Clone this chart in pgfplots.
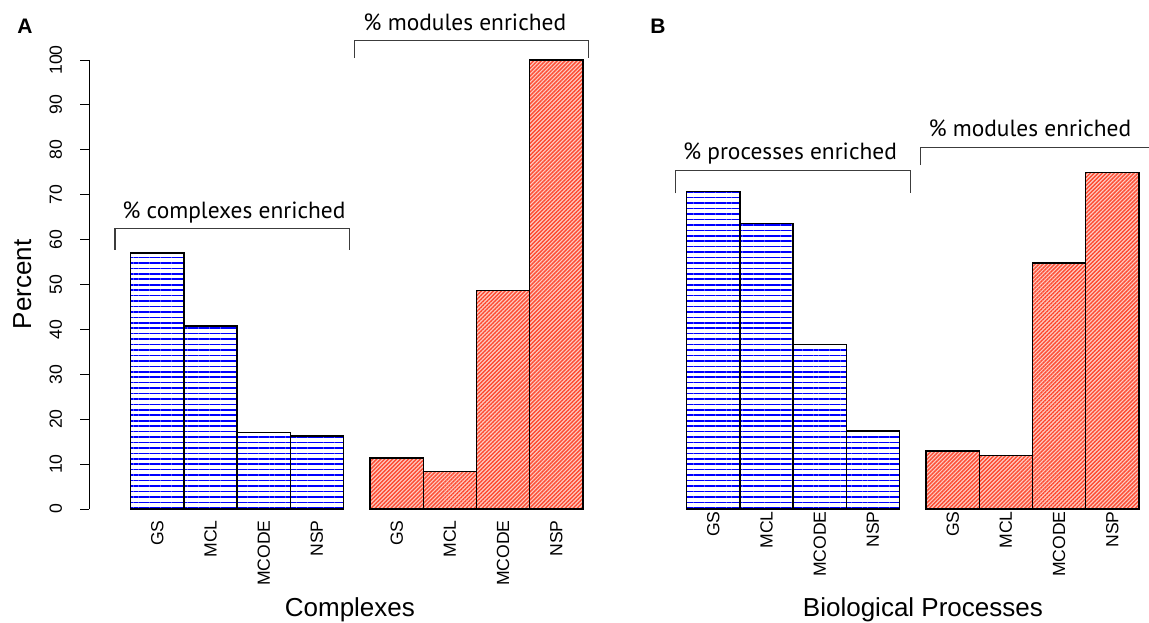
\documentclass[border=0pt]{standalone}
\usepackage{fontspec}
\setmainfont{Liberation Sans}
\newfontfamily\notefont{PT Sans}
\usepackage{pgfplots}
\pgfplotsset{compat=1.18}
\usetikzlibrary{patterns.meta}

\definecolor{lineblue}{RGB}{0,0,255}
\definecolor{hatchred}{RGB}{252,75,50}
\definecolor{basered}{RGB}{255,205,195}
\definecolor{bracketgray}{RGB}{60,60,60}

\tikzset{
  bracket/.style={draw=bracketgray, line width=0.55pt},
  note/.style={anchor=base, font=\notefont\fontsize{11.7}{14}\selectfont},
}

\pgfplotsset{
  panel/.style={
    scale only axis, width=246.95pt, height=224.5pt,
    xmin=-0.784, xmax=8.5, ymin=0, ymax=100, clip=false,
    /pgf/number format/assume math mode=true,
    axis x line*=bottom, x axis line style={draw=none},
    xtick={0.5,1.5,2.5,3.5,5,6,7,8},
    xticklabels={GS,MCL,MCODE,NSP,GS,MCL,MCODE,NSP},
    xtick style={draw=none},
    xticklabel style={yshift=-1pt, rotate=90, anchor=east, inner sep=0pt,
      font=\fontsize{8.8}{10}\selectfont},
    every axis x label/.style={anchor=base, font=\fontsize{13}{15}\selectfont},
  },
  bluebar/.style={ybar, bar width=1, bar shift=0pt, draw=black, line width=0.7pt,
    preaction={fill=white},
    pattern={Lines[angle=0, distance=2.72pt, line width=0.8pt]}, pattern color=lineblue},
  redbar/.style={ybar, bar width=1, bar shift=0pt, draw=black, line width=0.7pt,
    preaction={fill=basered},
    pattern={Lines[angle=45, distance=1.4pt, line width=0.7pt]}, pattern color=hatchred},
}

\begin{document}
\begin{tikzpicture}
\useasboundingbox (0,0) rectangle (574.5pt,311pt);

% Panel A: complexes
\begin{axis}[panel, at={(44.5pt,56.5pt)}, anchor=south west,
  axis y line*=left, y axis line style={line width=0.5pt},
  ytick={0,10,...,100}, tick align=outside, major tick length=4.5pt,
  ytick style={line width=0.5pt, black},
  yticklabel style={xshift=-5.5pt, rotate=90, anchor=south, font=\fontsize{8.8}{10}\selectfont},
  ylabel={Percent},
  every axis y label/.style={at={(axis cs:-2.04,50)}, rotate=90, anchor=center,
    font=\fontsize{13}{15}\selectfont},
  xlabel={Complexes},
  every axis x label/.append style={at={(axis cs:4.12,-24.05)}},
]
\addplot[bluebar] coordinates {(0.5,57.0) (1.5,40.8) (2.5,17.1) (3.5,16.3)};
\addplot[redbar] coordinates {(5,11.4) (6,8.3) (7,48.6) (8,100)};
\draw[bracket] (axis cs:-0.295,57.7) |- (axis cs:4.11,62.5) -- (axis cs:4.11,57.7);
\draw[bracket] (axis cs:4.20,100.4) |- (axis cs:8.60,104.3) -- (axis cs:8.60,100.4);
\node[note] at (axis cs:1.94,64.7) {\% complexes enriched};
\node[note] at (axis cs:6.28,106.5) {\% modules enriched};
\end{axis}

% Panel B: biological processes
\begin{axis}[panel, at={(322.5pt,56.5pt)}, anchor=south west,
  axis y line=none,
  xlabel={Biological Processes},
  every axis x label/.append style={at={(axis cs:4.44,-24.05)}},
]
\addplot[bluebar] coordinates {(0.5,70.7) (1.5,63.6) (2.5,36.7) (3.5,17.4)};
\addplot[redbar] coordinates {(5,12.9) (6,11.9) (7,54.8) (8,74.9)};
\draw[bracket] (axis cs:-0.207,70.3) |- (axis cs:4.20,75.3) -- (axis cs:4.20,70.3);
\draw[bracket] (axis cs:4.40,76.6) |- (axis cs:8.81,80.5) -- (axis cs:8.81,76.6);
\node[note] at (axis cs:1.94,77.8) {\% processes enriched};
\node[note] at (axis cs:6.45,82.9) {\% modules enriched};
\end{axis}

\node[font=\bfseries\fontsize{10.5}{12}\selectfont] at (12.5pt,298pt) {A};
\node[font=\bfseries\fontsize{10.5}{12}\selectfont] at (329pt,298pt) {B};
\end{tikzpicture}
\end{document}
